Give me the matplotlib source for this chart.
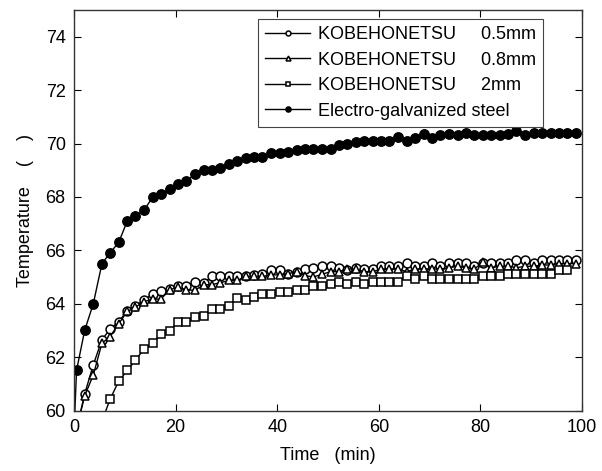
import matplotlib.pyplot as plt
import numpy as np

plt.rcParams['font.family'] = ['Liberation Sans', 'DejaVu Sans']

# time (min); first entry is the start point below the axis
time = [0.0, 0.5, 2.1, 3.8, 5.5, 7.1, 8.8, 10.5, 12.1, 13.8, 15.5,
        17.1, 18.8, 20.5, 22.1, 23.8, 25.5, 27.1, 28.8, 30.5, 32.1,
        33.8, 35.5, 37.1, 38.8, 40.5, 42.1, 43.8, 45.5, 47.1, 48.8,
        50.5, 52.1, 53.8, 55.5, 57.1, 58.8, 60.5, 62.1, 63.8, 65.5,
        67.1, 68.8, 70.5, 72.1, 73.8, 75.5, 77.1, 78.8, 80.5, 82.1,
        83.8, 85.5, 87.1, 88.8, 90.5, 92.1, 93.8, 95.5, 97.1, 98.8]

nan = np.nan

kobe_05 = [nan, 59.3, 60.62, 61.71, 62.65, 63.05, 63.33, 63.73, 63.92, 64.15, 64.36,
           64.46, 64.55, 64.65, 64.65, 64.83, 64.77, 65.02, 65.02, 65.02, 65.02,
           65.02, 65.08, 65.12, 65.25, 65.25, 65.12, 65.17, 65.30, 65.34, 65.42,
           65.40, 65.34, 65.28, 65.34, 65.30, 65.30, 65.42, 65.42, 65.42, 65.52,
           65.42, 65.42, 65.52, 65.42, 65.52, 65.52, 65.52, 65.42, 65.52, 65.52,
           65.52, 65.52, 65.62, 65.62, 65.52, 65.62, 65.62, 65.62, 65.62, 65.62]

kobe_08 = [nan, 59.3, 60.55, 61.33, 62.52, 62.77, 63.25, 63.71, 63.87, 64.08, 64.17,
           64.17, 64.52, 64.62, 64.52, 64.50, 64.71, 64.71, 64.79, 64.87, 64.87,
           65.02, 65.02, 65.02, 65.08, 65.08, 65.12, 65.20, 65.05, 65.00, 65.10,
           65.20, 65.20, 65.30, 65.30, 65.20, 65.20, 65.30, 65.30, 65.30, 65.20,
           65.30, 65.30, 65.30, 65.30, 65.35, 65.40, 65.35, 65.30, 65.55, 65.35,
           65.40, 65.40, 65.35, 65.40, 65.40, 65.45, 65.45, 65.50, 65.50, 65.50]

kobe_2 = [nan, nan, nan, nan, 59.6, 60.42, 61.10, 61.50, 61.89, 62.30, 62.52,
          62.85, 62.97, 63.33, 63.33, 63.52, 63.53, 63.81, 63.81, 63.91, 64.21,
          64.14, 64.24, 64.37, 64.37, 64.42, 64.42, 64.52, 64.52, 64.65, 64.65,
          64.75, 64.83, 64.75, 64.83, 64.75, 64.83, 64.83, 64.83, 64.83, 65.02,
          64.92, 65.02, 64.92, 64.92, 64.92, 64.92, 64.92, 64.92, 65.02, 65.02,
          65.02, 65.12, 65.12, 65.12, 65.12, 65.12, 65.12, 65.25, 65.25, nan]

egi = [59.2, 61.5, 63.0, 64.0, 65.5, 65.9, 66.3, 67.1, 67.3, 67.5, 68.0,
       68.1, 68.3, 68.5, 68.6, 68.85, 69.0, 69.0, 69.1, 69.25, 69.35,
       69.45, 69.5, 69.5, 69.65, 69.65, 69.7, 69.75, 69.8, 69.8, 69.8,
       69.8, 69.95, 70.0, 70.05, 70.1, 70.1, 70.1, 70.1, 70.25, 70.1,
       70.2, 70.35, 70.2, 70.3, 70.35, 70.3, 70.4, 70.3, 70.3, 70.3,
       70.3, 70.35, 70.45, 70.3, 70.4, 70.4, 70.4, 70.4, 70.4, 70.4]

labels = ['KOBEHONETSU     0.5mm', 'KOBEHONETSU     0.8mm',
          'KOBEHONETSU     2mm', 'Electro-galvanized steel']

fig = plt.figure(figsize=(6.02, 4.71), dpi=100)
ax = fig.add_axes([74 / 602, 60.5 / 471, 508 / 602, 400.5 / 471])

ax.plot(time, kobe_05, '-o', color='black', mfc='white', mec='black',
        ms=6.4, mew=1.1, lw=1.0, label=labels[0])
ax.plot(time, kobe_08, '-^', color='black', mfc='white', mec='black',
        ms=6.4, mew=1.1, lw=1.0, label=labels[1])
ax.plot(time, kobe_2, '-s', color='black', mfc='white', mec='black',
        ms=5.8, mew=1.1, lw=1.0, label=labels[2])
ax.plot(time, egi, '-o', color='black', mfc='black', mec='black',
        ms=6.8, lw=1.0, label=labels[3])

ax.set_xlim(0, 100)
ax.set_ylim(60, 75)
ax.set_xticks([0, 20, 40, 60, 80, 100])
ax.set_yticks([60, 62, 64, 66, 68, 70, 72, 74])
ax.tick_params(direction='in', length=5, width=0.8, labelsize=13,
               top=True, right=True, pad=6)
for s in ax.spines.values():
    s.set_color('#333333')
    s.set_linewidth(1.0)

ax.set_xlabel('Time   (min)', fontsize=13, labelpad=8)
ax.set_ylabel('Temperature    (    )', fontsize=13, labelpad=8)

leg = ax.legend(loc='upper right', bbox_to_anchor=(0.923, 0.9775),
                borderaxespad=0, fontsize=13, markerscale=0.55,
                handlelength=2.5, handletextpad=0.4, labelspacing=0.47,
                fancybox=False, framealpha=1, edgecolor='#444444',
                borderpad=0.4)
leg.get_frame().set_linewidth(0.8)

fig.savefig('out.png', dpi=100)
